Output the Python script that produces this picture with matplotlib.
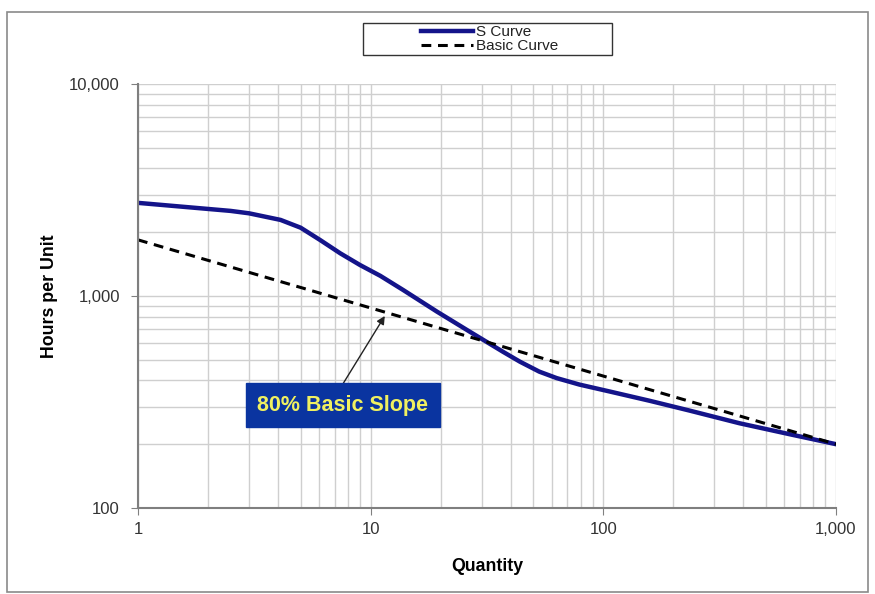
import numpy as np
import matplotlib.pyplot as plt
from matplotlib.ticker import FixedLocator, FuncFormatter, NullFormatter
from matplotlib.patches import Rectangle

plt.rcParams['font.family'] = ['Liberation Sans', 'DejaVu Sans']

# ─── data ───
s_qty = [1, 2.5, 3.0, 4.1, 5.0, 6.05, 7.4, 9.0, 11, 13.8, 19.3, 26.7, 37, 43.8, 53, 63,
         79, 107, 159, 235, 385, 630, 1000]
s_hours = [2750, 2520, 2455, 2285, 2100, 1840, 1590, 1400, 1245, 1067, 843, 678, 546, 490, 440, 410,
           382, 354, 320, 288, 251, 223, 200]

basic_qty = [1, 1000]
basic_hours = [1840, 200]

note_text = '80% Basic Slope'
note_xy = (11.5, 805)      # arrow tip
note_text_xy = (7.6, 306)  # box centre

fig = plt.figure(figsize=(8.75, 5.94), dpi=100)
ax = fig.add_axes([138 / 875, 1 - 508 / 594, 698 / 875, 424 / 594])

ax.plot(s_qty, s_hours, color='#14148a', lw=3.2, label='S Curve',
        solid_joinstyle='round')
ax.plot(basic_qty, basic_hours, color='black', lw=2.2, ls=(0, (3.2, 2.2)), label='Basic Curve')

ax.set_xscale('log')
ax.set_yscale('log')
ax.set_xlim(1, 1000)
ax.set_ylim(100, 10000)

fmt = FuncFormatter(lambda v, p: f'{v:,.0f}')
ax.xaxis.set_major_locator(FixedLocator([1, 10, 100, 1000]))
ax.yaxis.set_major_locator(FixedLocator([100, 1000, 10000]))
ax.xaxis.set_major_formatter(fmt)
ax.yaxis.set_major_formatter(fmt)
minors = [m * 10 ** d for d in range(0, 4) for m in range(2, 10)]
ax.xaxis.set_minor_locator(FixedLocator([v for v in minors if v < 1000]))
ax.yaxis.set_minor_locator(FixedLocator([v * 100 for v in minors if v < 100]))
ax.xaxis.set_minor_formatter(NullFormatter())
ax.yaxis.set_minor_formatter(NullFormatter())
ax.tick_params(which='minor', length=0)
ax.tick_params(which='major', length=5, color='#808080', labelsize=12,
               labelcolor='#333333', direction='out')
ax.tick_params(axis='x', pad=5)
ax.tick_params(axis='y', pad=8)

ax.grid(True, which='both', color='#cfcfcf', lw=1.0)
ax.set_axisbelow(True)
for side in ['top', 'right']:
    ax.spines[side].set_visible(False)
for side in ['left', 'bottom']:
    ax.spines[side].set_color('#7f7f7f')
    ax.spines[side].set_linewidth(1.5)

ax.set_xlabel('Quantity', fontsize=12.8, fontweight='bold', labelpad=15)
ax.set_ylabel('Hours per Unit', fontsize=12.8, fontweight='bold', labelpad=8)

ax.annotate('', xy=note_xy, xytext=(note_text_xy[0], 385),
            arrowprops=dict(arrowstyle='-|>', color='#222222', lw=1.0,
                            mutation_scale=12, shrinkA=0, shrinkB=0))
ax.text(note_text_xy[0], note_text_xy[1], note_text, ha='center', va='center',
        fontsize=15.5, fontweight='bold', color='#f0f060',
        bbox=dict(boxstyle='square,pad=0.55', facecolor='#0a34a0', edgecolor='#0a34a0'))

# legend box in the style of the original
fig.patches.append(Rectangle((363 / 875, 1 - 55 / 594), 249 / 875, 32 / 594,
                             transform=fig.transFigure, facecolor='white',
                             edgecolor='#333333', lw=1.0))
leg = fig.legend(loc='center', bbox_to_anchor=(490 / 875, 1 - 39 / 594), frameon=False,
                 fontsize=11, handlelength=3.4, handletextpad=0.2, labelspacing=0.0,
                 borderpad=0)
for t in leg.get_texts():
    t.set_color('#222222')

# outer frame around the whole chart
fig.patches.append(Rectangle((7 / 875, 1 - 592 / 594), 861 / 875, 580 / 594,
                             transform=fig.transFigure, facecolor='none',
                             edgecolor='#8a8a8a', lw=1.2))

fig.savefig('out.png', dpi=100)
